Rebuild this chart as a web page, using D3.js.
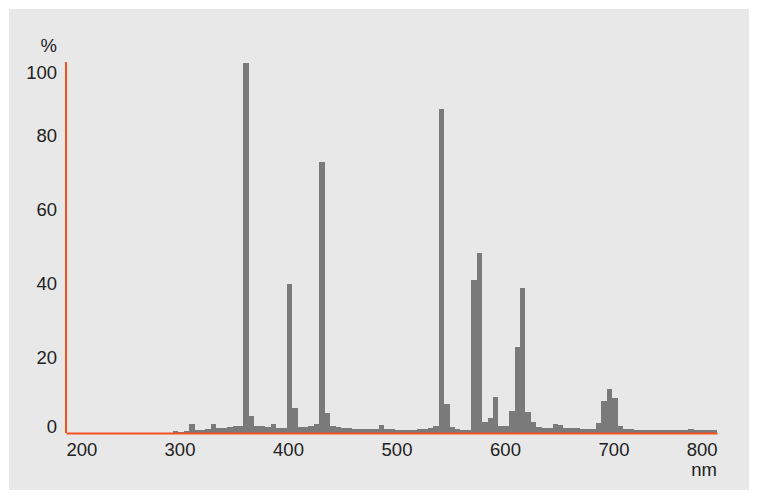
<!DOCTYPE html>
<html>
<head>
<meta charset="utf-8">
<script src="https://cdn.jsdelivr.net/npm/d3@7"></script>
<style>
  body { margin: 0; background: #fff; }
  svg text { font-family: "Liberation Sans", Arial, sans-serif; font-size: 18.5px; fill: #222; }
</style>
</head>
<body>
<svg id="chart" width="759" height="500"></svg>
<script>
// bin centres (nm), 5 nm wide
const wavelengths = [
  301, 306, 311, 316, 321, 326, 331, 336, 341, 346, 351, 356, 361, 366, 371, 376, 381, 386, 391, 396,
  401, 406, 411, 416, 421, 426, 431, 436, 441, 446, 451, 456, 461, 466, 471, 476, 481, 486, 491, 496,
  501, 506, 511, 516, 521, 526, 531, 536, 541, 546, 551, 556, 561, 566, 571, 576, 581, 586, 591, 596,
  601, 606, 611, 616, 621, 626, 631, 636, 641, 646, 651, 656, 661, 666, 671, 676, 681, 686, 691, 696,
  701, 706, 711, 716, 721, 726, 731, 736, 741, 746, 751, 756, 761, 766, 771, 776, 781, 786, 791, 796,
  801
];
// relative intensity (%)
const intensity = [
  0.5, 0.2, 0.6, 2.5, 0.7, 0.8, 1.0, 2.4, 1.3, 1.4, 1.6, 1.8, 2.0, 100, 4.5, 1.8, 1.8, 1.5, 2.4, 1.4,
  1.4, 40.3, 6.8, 1.7, 1.7, 1.9, 2.3, 73.3, 5.3, 2.0, 1.6, 1.3, 1.3, 1.2, 1.2, 1.1, 1.0, 1.1, 2.2, 1.2,
  1.0, 0.9, 0.9, 0.9, 0.9, 1.0, 1.1, 1.4, 2.0, 87.6, 7.8, 1.5, 1.2, 0.9, 0.9, 41.4, 48.7, 3.0, 4.1, 9.6,
  2.0, 2.0, 6.0, 23.2, 39.3, 5.6, 3.1, 1.7, 1.3, 1.3, 2.5, 2.1, 1.3, 1.3, 1.3, 1.0, 1.0, 1.0, 2.8, 8.6,
  11.9, 9.4, 2.0, 1.1, 1.1, 0.9, 0.8, 0.8, 0.8, 0.8, 0.8, 0.8, 0.8, 0.8, 0.8, 1.0, 0.8, 0.8, 0.8, 0.8,
  0.8
];
const binWidth = 5;
const xTicks = [200, 300, 400, 500, 600, 700, 800];
const yTicks = [0, 20, 40, 60, 80, 100];

const svg = d3.select("#chart");
const orange = "#f4511e";

// grey panel
svg.append("rect")
  .attr("x", 9).attr("y", 9)
  .attr("width", 740).attr("height", 481)
  .attr("fill", "#e8e8e8");

const x = d3.scaleLinear().domain([200, 800]).range([66, 717]);
const y = d3.scaleLinear().domain([0, 100]).range([433, 63]);

svg.append("clipPath").attr("id", "plot")
  .append("rect")
  .attr("x", x.range()[0]).attr("y", 0)
  .attr("width", x.range()[1] - x.range()[0]).attr("height", y(0));

svg.append("g")
  .attr("clip-path", "url(#plot)")
  .selectAll("rect")
  .data(wavelengths)
  .join("rect")
    .attr("x", d => x(d - binWidth / 2))
    .attr("width", d => x(d + binWidth / 2) - x(d - binWidth / 2))
    .attr("y", (d, i) => y(intensity[i]))
    .attr("height", (d, i) => y(0) - y(intensity[i]))
    .attr("fill", "#7a7a7a")
    .attr("shape-rendering", "crispEdges");

// x axis
const gx = svg.append("g")
  .attr("transform", "translate(0," + y(0) + ")")
  .call(d3.axisBottom(x).tickValues(xTicks).tickSize(0).tickSizeOuter(0).tickPadding(10));
gx.select(".domain").attr("stroke", orange).attr("stroke-width", 2);
gx.selectAll(".tick text")
  .attr("dx", 5)
  .filter(d => d === xTicks[0]).attr("text-anchor", "start").attr("dx", 0);
gx.selectAll(".tick text")
  .filter(d => d === xTicks[xTicks.length - 1]).attr("text-anchor", "end").attr("dx", 0);
gx.selectAll("text").attr("font-size", null).attr("font-family", null).attr("fill", null);

// y axis
const gy = svg.append("g")
  .attr("transform", "translate(" + x(200) + ",0)")
  .call(d3.axisLeft(y).tickValues(yTicks).tickSize(0).tickSizeOuter(0).tickPadding(9));
gy.select(".domain").attr("stroke", orange).attr("stroke-width", 2)
  .attr("d", "M0," + y(0) + "V" + (y(100) - 1));
gy.selectAll(".tick text")
  .attr("dy", "0.25em")
  .filter(d => d === 100).attr("dy", "0.86em");
gy.selectAll(".tick text")
  .filter(d => d === 0).attr("dy", "-0.03em");
gy.selectAll("text").attr("font-size", null).attr("font-family", null).attr("fill", null);

// units
svg.append("text")
  .attr("x", x(200) - 9).attr("y", 52)
  .attr("text-anchor", "end")
  .text("%");
svg.append("text")
  .attr("x", x.range()[1]).attr("y", 476)
  .attr("text-anchor", "end")
  .text("nm");
</script>
</body>
</html>
